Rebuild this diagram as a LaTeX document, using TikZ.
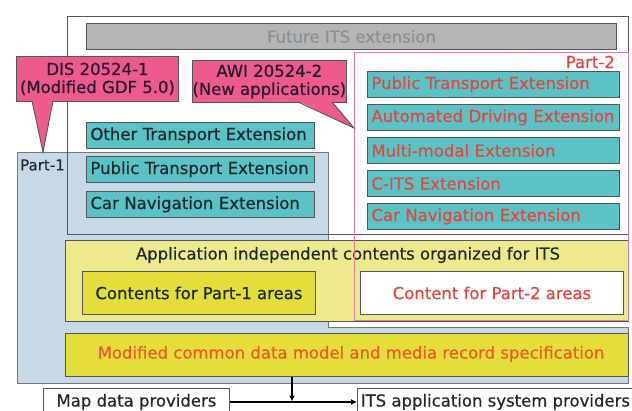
\documentclass[tikz,border=0pt]{standalone}
\usepackage{fontspec}
\setmainfont{DejaVu Sans}[FakeBold=0.5]
\usetikzlibrary{arrows.meta}
\definecolor{tealc}{HTML}{5BC3C6}
\definecolor{pone}{HTML}{C7D9E6}
\definecolor{pinkc}{HTML}{EC5A8E}
\definecolor{pinkline}{HTML}{E87AA0}
\definecolor{ylight}{HTML}{EDEA8E}
\definecolor{ystrong}{HTML}{E4DE3C}
\definecolor{grayfill}{HTML}{B3B5B7}
\definecolor{graytext}{HTML}{8C8F91}
\definecolor{redtext}{HTML}{E2463F}
\definecolor{orangetext}{HTML}{F0582A}
\definecolor{darktext}{HTML}{1E2A2C}
\definecolor{calltext}{HTML}{2B1830}
\definecolor{edgec}{HTML}{555555}
\begin{document}
\begin{tikzpicture}[x=1pt,y=-1pt,
  fnt/.style={font=\fontsize{16.5}{18}\selectfont},
  box/.style={draw=edgec, line width=0.9pt, anchor=north west, inner ysep=0pt, fnt},
  extone/.style={box, fill=tealc, text=darktext, minimum height=26pt, text width=220pt, inner xsep=4pt, align=left},
  exttwo/.style={box, fill=tealc, text=redtext, minimum height=26pt, text width=244pt, inner xsep=4pt, align=left},
  callout/.style={box, fill=pinkc, text=calltext, align=center, inner xsep=0pt},
  arr/.style={line width=1.8pt, -{Latex[length=6pt,width=6pt]}}
]
\useasboundingbox (0,0) rectangle (632,410);
\fill[white] (0,0) rectangle (632,410);

% Part-1 area
\filldraw[fill=pone, draw=edgec!80, line width=0.8pt]
  (17,152) -- (328,152) -- (328,327) -- (628,327) -- (628,383) -- (17,383) -- cycle;
% outer frame of extensions
\draw[edgec, line width=0.7pt] (67,16) rectangle (628,234);

% application independent contents
\node[box, fill=ylight, minimum width=563pt, minimum height=81pt] (app) at (65,240) {};
\node[fnt, text=darktext] (apptext) at (348,255) {Application independent contents organized for ITS};

% Part-2 frame
\draw[pinkline, line width=1pt] (354,52) rectangle (628,320);
\node[fnt, text=redtext, anchor=east, inner sep=0pt] (ptwo) at (615,62) {Part-2};

% Part-1 label
\node[font=\fontsize{15}{18}\selectfont, text=darktext, anchor=west, inner sep=0pt] (pone) at (20,165) {Part-1};

% future ITS
\node[box, fill=grayfill, text=graytext, minimum width=530pt, minimum height=26pt] (future) at (86,23) {Future ITS extension};

% Part-1 extensions
\node[extone] (oth) at (86,122) {Other Transport Extension};
\node[extone] (pt1) at (86,156) {Public Transport Extension};
\node[extone] (cn1) at (86,191) {Car Navigation Extension};

% Part-2 extensions
\node[exttwo] (pt2) at (367,71) {Public Transport Extension};
\node[exttwo] (ad2) at (367,104) {Automated Driving Extension};
\node[exttwo] (mm2) at (367,137) {Multi-modal Extension};
\node[exttwo] (cits) at (367,170) {C-ITS Extension};
\node[exttwo] (cn2) at (367,203) {Car Navigation Extension};

% contents
\node[box, fill=ystrong, text=darktext, minimum width=233pt, minimum height=43pt] (c1) at (82,271) {Contents for Part-1 areas};
\node[box, fill=white, text=redtext, minimum width=263pt, minimum height=43pt] (c2) at (360,271) {Content for Part-2 areas};

% common data model
\node[box, fill=ystrong, minimum width=563pt, minimum height=43pt] (mod) at (65,333) {};
\node[fnt, text=orangetext] (modtext) at (351,354) {Modified common data model and media record specification};

% callouts
\node[callout, minimum width=162pt, minimum height=45pt] (dis) at (16,56) {DIS 20524-1\\(Modified GDF 5.0)};
\fill[pinkc] (32,100.2) -- (43,152) -- (53,100.2) -- cycle;
\draw[edgec, line width=0.9pt] (32,101) -- (43,152) -- (53,101);
\node[callout, minimum width=149pt, minimum height=42pt] (awi) at (192,60) {AWI 20524-2\\(New applications)};
\fill[pinkc] (298,101.2) -- (354,128) -- (332,101.2) -- cycle;
\draw[edgec, line width=0.9pt] (298,102) -- (354,128) -- (332,102);

% providers
\node[box, fill=white, text=darktext, minimum width=186pt, minimum height=27pt] (map) at (43,388) {Map data providers};
\node[box, fill=white, text=darktext, minimum width=271pt, minimum height=27pt] (its) at (357,388) {ITS application system providers};
\coordinate (j) at (292,401.5);
\draw[arr] (map.east) -- (its.west);
\draw[arr] (mod.south -| j) -- (j);
\end{tikzpicture}
\end{document}
